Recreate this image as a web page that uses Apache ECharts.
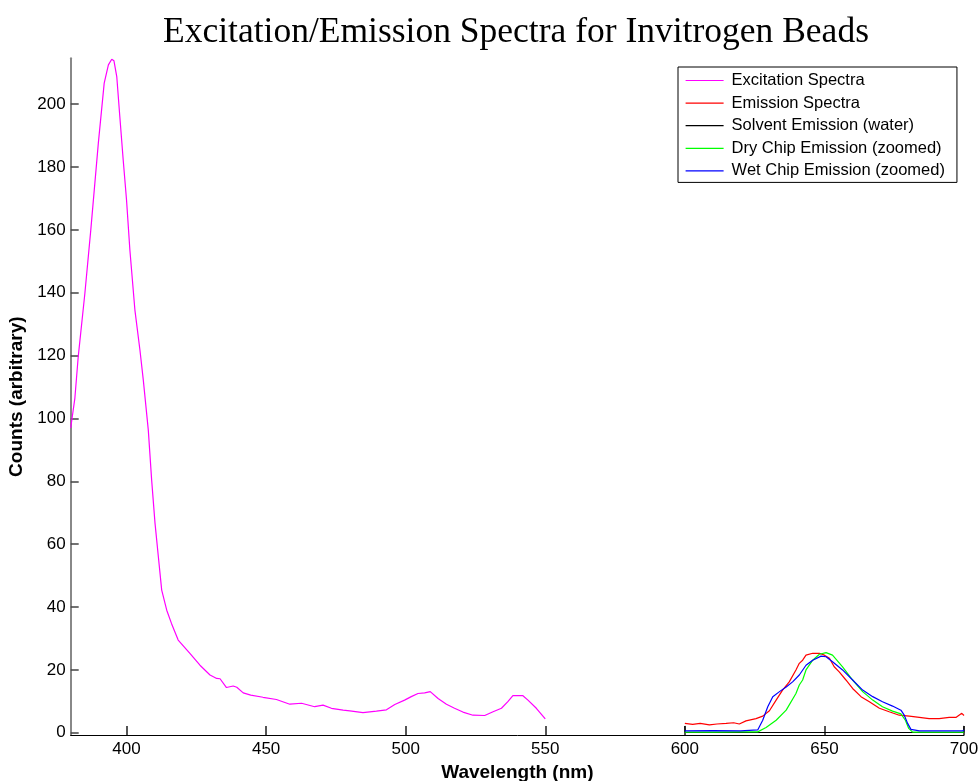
<!DOCTYPE html>
<html>
<head>
<meta charset="utf-8">
<script src="https://cdn.jsdelivr.net/npm/echarts@6/dist/echarts.min.js"></script>
<style>html,body{margin:0;padding:0;background:#fff}#c{width:980px;height:781px}</style>
</head>
<body>
<div id="c"></div>
<script>
var titleText = 'Excitation/Emission Spectra for Invitrogen Beads';
var xName = 'Wavelength (nm)';
var yName = 'Counts (arbitrary)';
var xTicks = [400, 450, 500, 550, 600, 650, 700];
var yTicks = [0, 20, 40, 60, 80, 100, 120, 140, 160, 180, 200];
var seriesNames = ['Excitation Spectra', 'Emission Spectra', 'Solvent Emission (water)', 'Dry Chip Emission (zoomed)', 'Wet Chip Emission (zoomed)'];

var excitationX = [380, 381.5, 382.7, 385.1, 387.2, 389.9, 392.0, 393.5, 394.7, 395.5, 396.5, 397.6, 398.8, 400.0, 401.2, 403.0, 404.8, 406.0, 407.8, 409.0, 410.2, 411.4, 412.6, 414.4, 416.1, 418.5, 422.7, 426.3, 429.9, 432.3, 433.5, 435.8, 438.2, 439.5, 441.8, 444.5, 448.9, 453.7, 458.5, 462.7, 467.4, 470.4, 473.4, 477.6, 480.0, 484.7, 489.5, 493.1, 496.1, 499.6, 502.0, 504.4, 506.8, 508.8, 511.6, 514.6, 517.5, 520.5, 524.1, 528.3, 531.3, 534.3, 536.6, 538.4, 542.0, 543.8, 546.8, 550.0];
var excitationY = [97, 106.5, 119.7, 140, 160, 187.6, 206.7, 212.5, 214.3, 213.8, 208.8, 196, 182.3, 169.5, 153.6, 134.5, 121.8, 112.3, 96.3, 80.4, 66.7, 56, 45.4, 39, 34.8, 29.5, 25.3, 21.5, 18.4, 17.3, 17.2, 14.4, 14.9, 14.5, 12.7, 12.0, 11.3, 10.6, 9.1, 9.4, 8.3, 8.8, 7.8, 7.2, 7.0, 6.4, 6.9, 7.3, 9.0, 10.4, 11.5, 12.5, 12.7, 13.1, 10.9, 9.1, 7.8, 6.6, 5.6, 5.5, 6.7, 7.8, 9.9, 11.8, 11.8, 10.4, 7.8, 4.4];

var emissionX = [600, 602.8, 605.5, 608.8, 611.5, 614.8, 617.5, 619.5, 621.9, 625.5, 627.9, 630.3, 632.7, 635.0, 637.4, 639.8, 641.0, 642.2, 643.4, 644.0, 645.8, 648.2, 650.0, 651.8, 653.5, 655.3, 657.7, 660.1, 663.1, 666.1, 669.7, 673.2, 676.8, 680.4, 684.0, 687.5, 691.1, 694.7, 697.1, 699.2, 700];
var emissionY = [3.0, 2.7, 3.0, 2.5, 2.8, 3.0, 3.2, 2.8, 3.8, 4.5, 5.3, 7.0, 10.4, 13.6, 16.2, 20.0, 22.1, 23.1, 24.7, 25.3, 25.3, 25.3, 24.7, 23.7, 21.0, 19.4, 16.8, 14.1, 11.5, 9.9, 7.8, 6.7, 5.6, 5.3, 4.9, 4.5, 4.5, 4.9, 4.9, 6.2, 5.5];

var solventX = [600, 600.1, 625, 650, 675, 699.9, 700];
var solventY = [2.2, 0.1, 0.1, 0.1, 0.1, 0.1, 2.2];

var dryX = [600, 610, 620, 626.1, 629.1, 632.7, 636.3, 639.8, 641.0, 642.2, 643.4, 645.8, 648.2, 650.6, 652.9, 656.5, 660.1, 663.7, 667.3, 670.8, 674.4, 677.4, 679.0, 680.2, 681.6, 690, 700];
var dryY = [0.2, 0.2, 0.3, 0.3, 1.7, 4.0, 7.2, 12.5, 15.2, 16.8, 20.0, 23.1, 25.0, 25.5, 24.7, 21.0, 16.8, 13.1, 10.4, 8.3, 6.9, 6.0, 4.0, 1.4, 0.2, 0.2, 0.2];

var wetX = [600, 610, 620, 626.1, 627.9, 629.7, 631.5, 633.9, 636.3, 638.6, 641.0, 643.4, 645.8, 648.8, 650.6, 652.9, 656.5, 660.1, 663.7, 667.3, 670.8, 674.4, 677.4, 678.6, 679.8, 681.0, 684.0, 692, 699.5, 700];
var wetY = [0.6, 0.7, 0.6, 0.9, 4.0, 8.3, 11.5, 13.1, 14.6, 16.2, 18.4, 21.5, 23.1, 24.4, 24.2, 22.6, 20.0, 16.8, 13.6, 11.5, 9.9, 8.5, 7.2, 5.6, 3.0, 1.1, 0.6, 0.6, 0.6, 0.9];

function pairs(xs, ys) { return xs.map(function (x, i) { return [x, ys[i]]; }); }

var colors = ['#ff00ff', '#ff0000', '#000000', '#00ff00', '#0000ff'];
var datasets = [pairs(excitationX, excitationY), pairs(emissionX, emissionY), pairs(solventX, solventY), pairs(dryX, dryY), pairs(wetX, wetY)];

var chart = echarts.init(document.getElementById('c'), null, { renderer: 'canvas' });
chart.setOption({
  animation: false,
  backgroundColor: '#ffffff',
  title: {
    text: titleText,
    left: 511, textAlign: 'center', top: 10,
    textStyle: { fontFamily: '"Liberation Serif", "Times New Roman", serif', fontSize: 35.5, fontWeight: 'normal', color: '#000' }
  },
  grid: { left: 70.7, right: 16, top: 58.3, bottom: 46, containLabel: false, outerBoundsMode: 'none' },
  legend: {
    orient: 'vertical', left: 678, top: 67,
    data: seriesNames,
    backgroundColor: '#ffffff', borderColor: '#000', borderWidth: 1,
    padding: [5, 12, 3, 7], itemWidth: 38, itemHeight: 14, itemGap: 5.6,
    itemStyle: { opacity: 0 },
    lineStyle: { width: 1.2, opacity: 1 },
    textStyle: { fontFamily: '"Liberation Sans", Arial, sans-serif', fontSize: 16.5, color: '#000', padding: [0, 0, 0, 3] }
  },
  xAxis: {
    type: 'value', min: 380, max: 700,
    name: xName, nameLocation: 'middle', nameGap: 26,
    nameTextStyle: { fontFamily: '"Liberation Sans", Arial, sans-serif', fontSize: 19, fontWeight: 'bold', color: '#000' },
    axisLine: { show: true, onZero: false, lineStyle: { color: '#000', width: 1 } },
    axisTick: { show: true, inside: true, length: 9, customValues: xTicks, lineStyle: { color: '#555', width: 2 } },
    axisLabel: { customValues: xTicks, margin: 6, fontFamily: '"Liberation Sans", Arial, sans-serif', fontSize: 17, color: '#000' },
    splitLine: { show: false }
  },
  yAxis: {
    type: 'value', min: -0.7, max: 214.6,
    name: yName, nameLocation: 'middle', nameGap: 37,
    nameTextStyle: { fontFamily: '"Liberation Sans", Arial, sans-serif', fontSize: 19, fontWeight: 'bold', color: '#000' },
    axisLine: { show: true, onZero: false, lineStyle: { color: '#888', width: 2 } },
    axisTick: { show: true, inside: true, length: 8, customValues: yTicks, lineStyle: { color: '#444', width: 1.5 } },
    axisLabel: { customValues: yTicks, margin: 5, fontFamily: '"Liberation Sans", Arial, sans-serif', fontSize: 17, color: '#000' },
    splitLine: { show: false }
  },
  series: seriesNames.map(function (n, i) {
    return {
      name: n, type: 'line', data: datasets[i], symbol: 'none', showSymbol: false,
      smooth: false, clip: true,
      lineStyle: { color: colors[i], width: 1.2 }, itemStyle: { color: colors[i] },
      z: i === 2 ? 1 : 2
    };
  })
});
</script>
</body>
</html>
